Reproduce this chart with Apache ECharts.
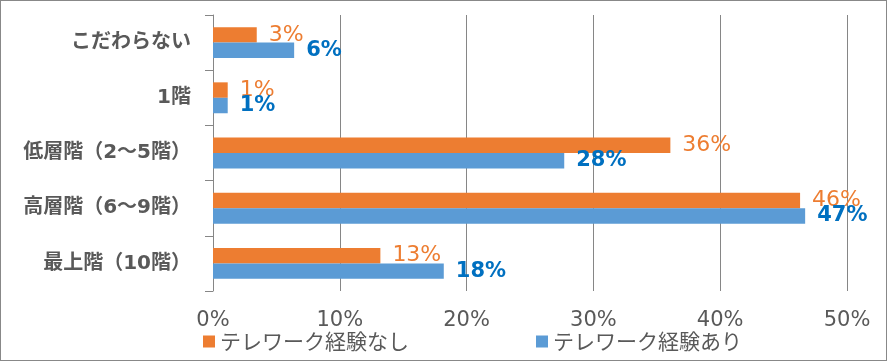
<!DOCTYPE html>
<html><head><meta charset="utf-8">
<script src="https://cdn.jsdelivr.net/npm/echarts@6/dist/echarts.min.js"></script>
<style>html,body{margin:0;padding:0;background:#fff}#c{width:887px;height:361px;box-sizing:border-box;border:1px solid #888}</style>
</head><body><div id="c"></div>
<script>
const categories = ['こだわらない', '1階', '低層階（2～5階）', '高層階（6～9階）', '最上階（10階）'];
const seriesNames = ['テレワーク経験なし', 'テレワーク経験あり'];
const noExperience = [3.45, 1.16, 36.07, 46.3, 13.2];
const withExperience = [6.4, 1.16, 27.7, 46.7, 18.2];
const xTicks = [0, 10, 20, 30, 40, 50];

const FONT = '"DejaVu Sans", "Noto Sans CJK JP", sans-serif';
const CJK = '"Noto Sans CJK JP", sans-serif';
const chart = echarts.init(document.getElementById('c'));
chart.setOption({
  animation: false,
  textStyle: {fontFamily: FONT},
  grid: {left: 212, right: 39, top: 14, bottom: 69, containLabel: false},
  legend: {
    left: 197, top: 325, itemWidth: 12, itemHeight: 12, itemGap: 127,
    icon: 'rect',
    textStyle: {fontFamily: CJK, fontSize: 21, color: '#595959'},
    data: seriesNames
  },
  xAxis: {
    type: 'value', min: xTicks[0], max: xTicks[xTicks.length - 1], interval: 10,
    axisLine: {show: false}, axisTick: {show: false},
    splitLine: {show: true, lineStyle: {color: '#868686', width: 1}},
    axisLabel: {formatter: v => v + '%', fontFamily: FONT, fontSize: 21, color: '#595959', margin: 19}
  },
  yAxis: {
    type: 'category', data: categories, inverse: true,
    axisLine: {show: true, lineStyle: {color: '#868686'}},
    axisTick: {show: true, length: 8, lineStyle: {color: '#868686'}},
    axisLabel: {fontFamily: FONT, fontSize: 20, fontWeight: 'bold', color: '#595959', margin: 22}
  },
  series: [
    {
      name: seriesNames[0], type: 'bar', data: noExperience,
      barGap: '0%', barCategoryGap: '44%',
      itemStyle: {color: '#ED7D31'},
      label: {show: true, position: 'right', distance: 12, formatter: p => Math.round(p.value) + '%',
        fontFamily: FONT, fontSize: 22, color: '#ED7D31'}
    },
    {
      name: seriesNames[1], type: 'bar', data: withExperience,
      barGap: '0%', barCategoryGap: '44%',
      itemStyle: {color: '#5B9BD5'},
      label: {show: true, position: 'right', distance: 12, formatter: p => Math.round(p.value) + '%',
        fontFamily: FONT, fontSize: 21, fontWeight: 'bold', color: '#0070C0'}
    }
  ]
});
</script></body></html>
